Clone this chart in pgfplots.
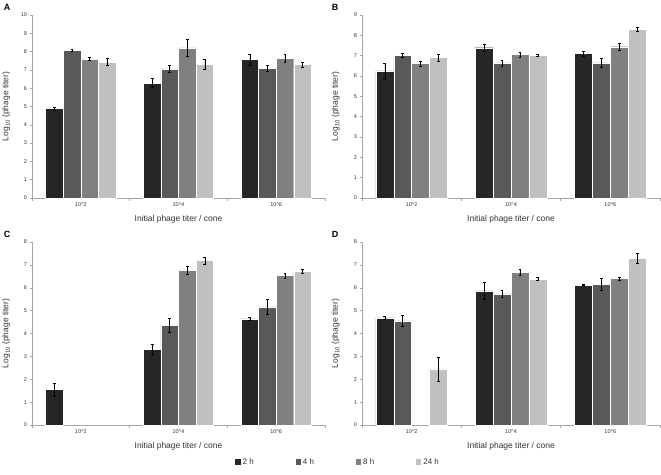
\documentclass[border=0pt]{standalone}
\usepackage{fontspec}
\setmainfont{Liberation Sans}
\usepackage{pgfplots}
\usepackage{pgfplotstable}
\pgfplotsset{compat=1.18}

\definecolor{cTwo}{HTML}{262626}
\definecolor{cFour}{HTML}{595959}
\definecolor{cEight}{HTML}{808080}
\definecolor{cDay}{HTML}{C0C0C0}
\definecolor{axisgray}{HTML}{A6A6A6}

% x = category, hN = log10 titer after N hours, eN = error
\pgfplotstableread{
x h2 e2 h4 e4 h8 e8 h24 e24
1 4.88 0.10 8.07 0.04 7.60 0.10 7.43 0.18
2 6.28 0.24 7.05 0.20 8.21 0.45 7.32 0.27
3 7.58 0.30 7.10 0.15 7.65 0.23 7.29 0.15
}\tabA
\pgfplotstableread{
x h2 e2 h4 e4 h8 e8 h24 e24
1 6.25 0.40 7.02 0.12 6.62 0.12 6.92 0.17
2 7.39 0.18 6.64 0.15 7.06 0.13 7.02 0.05
3 7.10 0.13 6.64 0.22 7.44 0.18 8.30 0.08
}\tabB
\pgfplotstableread{
x h2 e2 h4 e4 h8 e8 h24 e24
1 1.55 0.28 nan nan nan nan nan nan
2 3.31 0.22 4.37 0.30 6.78 0.17 7.19 0.15
3 4.64 0.08 5.16 0.33 6.53 0.10 6.73 0.08
}\tabC
\pgfplotstableread{
x h2 e2 h4 e4 h8 e8 h24 e24
1 4.68 0.06 4.55 0.25 nan nan 2.45 0.52
2 5.86 0.38 5.73 0.15 6.68 0.12 6.38 0.06
3 6.12 0.03 6.15 0.28 6.40 0.07 7.29 0.20
}\tabD

\tikzset{letter/.style={font=\bfseries\fontsize{9}{10}\selectfont}}

\pgfplotsset{
  panel/.style={
    scale only axis, height=183bp, clip=false,
    ybar=0pt, bar width=0.18,
    xmin=0.5, xmax=3.5, ymin=0,
    axis lines=left,
    axis line style={-, draw=axisgray, line width=0.6bp},
    xtick={1,2,3},
    xticklabels={10\textasciicircum 2, 10\textasciicircum 4, 10\textasciicircum 6},
    minor xtick={0.5,1.5,2.5,3.5},
    major x tick style={draw=none},
    minor x tick style={draw=axisgray, line width=0.5bp},
    y tick style={draw=axisgray, line width=0.5bp},
    tick align=outside, major tick length=2.5bp, minor tick length=3bp,
    ytick distance=1,
    /pgf/number format/assume math mode=true,
    ticklabel style={font=\fontsize{5.5}{6}\selectfont, text=black!80},
    xticklabel style={yshift=1bp},
    yticklabel style={xshift=1bp},
    xlabel={Initial phage titer / cone},
    ylabel={Log\textsubscript{10} (phage titer)},
    label style={font=\fontsize{8.5}{10}\selectfont, text=black!80},
    xlabel style={at={(axis description cs:0.5,-0.115)}, anchor=center},
    ylabel style={at={(axis description cs:-0.088,0.5)}, anchor=center},
    legend image code/.code={\path[#1, draw=none] (0bp,-2.6bp) rectangle (5.2bp,2.6bp);},
    error bars/y dir=both, error bars/y explicit,
    error bars/error bar style={black, line width=0.5bp},
    error bars/error mark options={rotate=90, mark size=1.4bp, line width=0.5bp, black},
  },
  b2/.style={fill=cTwo, draw=white, line width=0.4bp},
  b4/.style={fill=cFour, draw=white, line width=0.4bp},
  b8/.style={fill=cEight, draw=white, line width=0.4bp},
  b24/.style={fill=cDay, draw=white, line width=0.4bp},
}

\newcommand{\bars}[1]{%
  \addplot[b2] table[x=x, y=h2, y error=e2] {#1};
  \addplot[b4] table[x=x, y=h4, y error=e4] {#1};
  \addplot[b8] table[x=x, y=h8, y error=e8] {#1};
  \addplot[b24] table[x=x, y=h24, y error=e24] {#1};
}

\begin{document}
\begin{tikzpicture}
\useasboundingbox (0,0) rectangle (661bp,475bp);

\begin{axis}[panel, width=293bp, ymax=10, at={(32bp,277bp)}, anchor=south west]
  \bars{\tabA}
  \node[letter] at (axis description cs:-0.085,1.041) {A};
\end{axis}

\begin{axis}[panel, width=298bp, ymax=9, at={(362bp,277bp)}, anchor=south west]
  \bars{\tabB}
  \node[letter] at (axis description cs:-0.09,1.041) {B};
\end{axis}

\begin{axis}[panel, width=293bp, ymax=8, at={(32bp,50bp)}, anchor=south west,
  legend columns=4,
  legend style={draw=none, fill=none, at={(axis description cs:1.045,-0.202)}, anchor=center,
    font=\fontsize{8}{9}\selectfont, text=black!80,
    /tikz/every even column/.append style={column sep=40bp}}]
  \bars{\tabC}
  \legend{2 h, 4 h, 8 h, 24 h}
  \node[letter] at (axis description cs:-0.085,1.041) {C};
\end{axis}

\begin{axis}[panel, width=298bp, ymax=8, at={(362bp,50bp)}, anchor=south west]
  \bars{\tabD}
  \node[letter] at (axis description cs:-0.09,1.041) {D};
\end{axis}
\end{tikzpicture}
\end{document}
